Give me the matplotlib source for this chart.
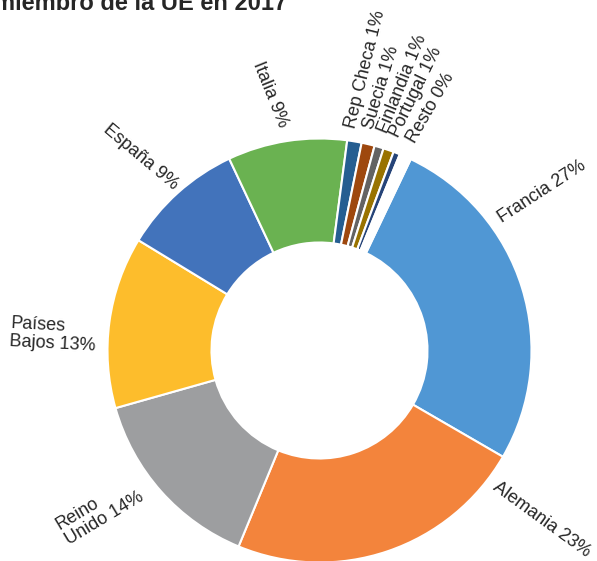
import matplotlib
matplotlib.use("Agg")
from matplotlib import pyplot as plt

# datos (porcentaje por estado miembro)
paises = ["Francia", "Alemania", "Reino\nUnido", "Países\nBajos", "España", "Italia",
          "Rep Checa", "Suecia", "Finlandia", "Portugal", "Resto", ""]
valores = [26.3, 22.9, 14.4, 13.1, 9.3, 9.1, 1.1, 1.0, 0.7, 0.8, 0.5, 0.9]
etiquetas_pct = ["27%", "23%", "14%", "13%", "9%", "9%", "1%", "1%", "1%", "1%", "0%", ""]

colores = ["#5097d4", "#f3843c", "#9d9ea0", "#fdbd2c", "#4273bb", "#6ab251",
           "#255e91", "#9e480e", "#636363", "#997300", "#264478", "white"]

W, H = 597, 561
fig = plt.figure(figsize=(W / 100, H / 100), dpi=100)
ax = fig.add_axes([0, 0, 1, 1])

centro = (319.5, H - 350.5)
ax.pie(valores, colors=colores, startangle=90 - 25.5, counterclock=False,
       center=centro, radius=212,
       wedgeprops=dict(width=104, edgecolor="white", linewidth=1.5))
ax.set_xlim(0, W)
ax.set_ylim(0, H)
ax.set_aspect("equal")
ax.axis("off")

# posiciones (px desde arriba-izquierda) y giro de cada etiqueta
pos = [(542, 192), (542, 520), (100, 511), (53, 335), (141, 157), (270, 94),
       (365, 69), (381, 88), (402, 84), (416, 92), (431, 108)]
giro = [33, -36, 31, -3, -40, -68, 76, 73, 68, 64, 60]

for i, (x, y) in enumerate(pos):
    txt = paises[i] + " " + etiquetas_pct[i]
    ax.text(x, H - y, txt, ha="center", va="center", rotation=giro[i],
            multialignment="left", fontsize=13, family="Liberation Sans",
            color="#262626", linespacing=1.05)

# título (recortado en la imagen original)
fig.text(-6 / W, 1 - 10 / H, "miembro de la UE en 2017", ha="left", va="baseline",
         fontsize=17, fontweight="bold", family="Liberation Sans", color="#262626")

fig.savefig("out.png", dpi=100)
